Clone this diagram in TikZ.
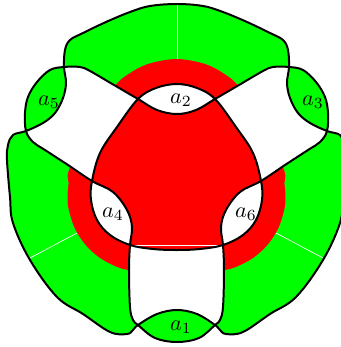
\documentclass[tikz,border=0pt]{standalone}
\usepackage{tikz}

% the three closed curves and the red blob, in pixel units
\newcommand{\stripcurve}{plot[smooth cycle, tension=0.6] coordinates {(26,131) (33,142) (45,150) (68,165) (92,181) (113,192) (127,210) (132,227) (130,245) (129,270) (130,307) (133,320) (138,325) (155,338) (177,342) (199,338) (215,325) (220,320) (223,307) (224,270) (223,245) (221,227) (226,210) (240,192) (261,181) (285,165) (308,150) (320,142) (327,131) (328,113) (325,97) (316,82) (303,70) (289,67) (273,67) (263,71) (239,85) (215,99) (196,110) (177,114) (157,110) (138,99) (114,85) (90,71) (80,67) (64,67) (50,70) (37,82) (28,97) (25,113)}}
\newcommand{\innercurve}{plot[smooth cycle, tension=0.6] coordinates {(130,245) (153,249) (177,250) (200,249) (223,245) (243,235) (256,220) (262,200) (261,181) (253,153) (236,127) (215,99) (197,88) (177,84) (156,88) (138,99) (117,127) (100,153) (92,181) (91,200) (97,220) (110,235)}}
\newcommand{\outercurve}{plot[smooth cycle, tension=0.6] coordinates {(64,67) (65,50) (70,40) (83,33) (106,22) (130,12) (150,6) (177,4) (203,6) (223,12) (247,22) (270,33) (283,40) (288,50) (289,67) (287,83) (290,98) (298,113) (310,123) (327,131) (340,135) (345,145) (346,160) (343,197) (340,223) (323,260) (296,297) (270,314) (243,332) (226,334) (220,330) (215,325) (197,314) (177,310) (157,314) (138,325) (133,330) (127,334) (110,332) (83,314) (57,297) (30,260) (13,223) (10,197) (7,160) (8,145) (13,135) (26,131) (43,123) (55,113) (63,98) (66,83)}}
\newcommand{\redblob}{plot[smooth cycle, tension=0.55] coordinates {(176.5,59) (205.2,64) (224.7,74.2) (238.9,86.8) (265,125) (284,170) (284.4,183) (285.5,196) (284.4,209) (278.4,228) (267.8,244.5) (253.3,257.8) (235.8,267) (223.1,270.4) (176.5,280) (129.9,270.4) (117.2,267) (99.7,257.8) (85.2,244.5) (74.6,227.9) (68.6,209) (67.5,196) (68.6,183) (69,170) (88,125) (114.1,86.8) (128.3,74.2) (147.8,64)}}

\begin{document}
\begin{tikzpicture}[
  x=0.45pt, y=-0.45pt,
  curve/.style={line width=0.9pt, line join=round},
  seam/.style={white, line width=0.3pt}
]
  \useasboundingbox (0,0) rectangle (341,347);
  \clip (0,0) rectangle (341,347);

  % regions: coloured where an odd number of curves enclose
  \fill[green, even odd rule] \stripcurve \innercurve \outercurve;
  \begin{scope}
    \clip \redblob;
    \fill[red, even odd rule] \stripcurve \innercurve \outercurve;
  \end{scope}

  % seams of the fill
  \coordinate (p4b) at (130,245);
  \coordinate (p6b) at (223,245);
  \draw[seam] (177,4) -- (177,59);
  \draw[seam] (30,258) -- (77,233);
  \draw[seam] (323,258) -- (276,233);
  \draw[seam] (p4b) -- (p6b);

  \draw[curve] \stripcurve;
  \draw[curve] \innercurve;
  \draw[curve] \outercurve;

  \node (a1) at (181,327) {$a_1$};
  \node (a2) at (181,100) {$a_2$};
  \node (a3) at (313,102) {$a_3$};
  \node (a4) at (113,214) {$a_4$};
  \node (a5) at (49,102) {$a_5$};
  \node (a6) at (246,214) {$a_6$};
\end{tikzpicture}
\end{document}
